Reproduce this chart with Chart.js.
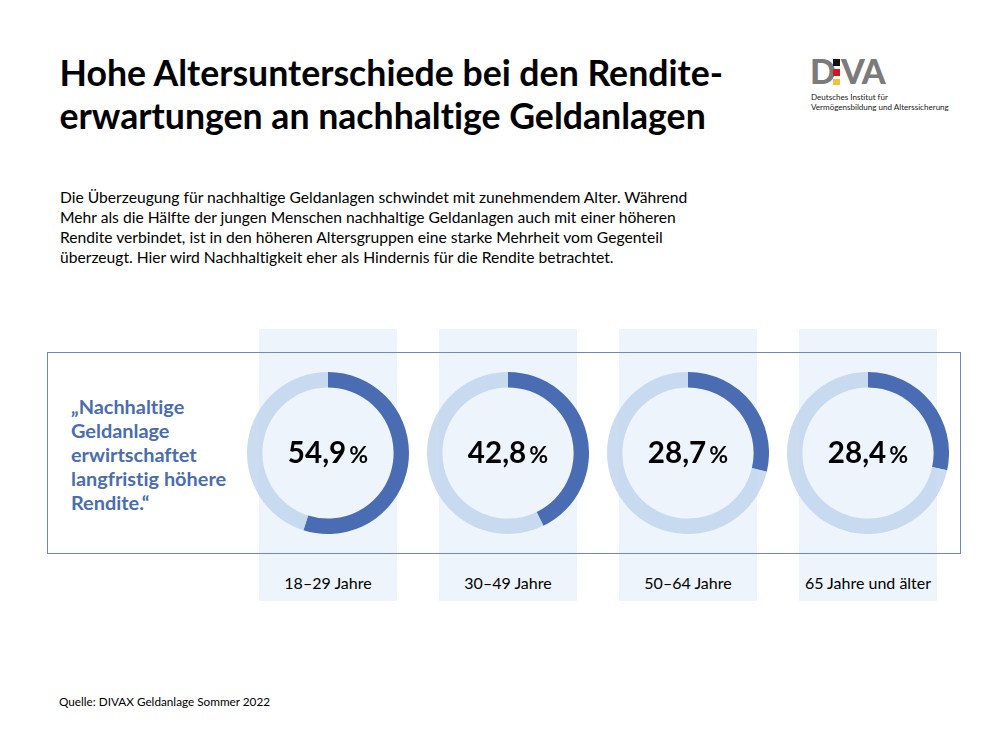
<!DOCTYPE html>
<html lang="de">
<head>
<meta charset="utf-8">
<title>Hohe Altersunterschiede</title>
<script src="https://cdn.jsdelivr.net/npm/chart.js@4"></script>
<style>
  html, body { margin: 0; padding: 0; background: #fff; }
  body { width: 1008px; height: 756px; position: relative; overflow: hidden; font-family: Lato, sans-serif; color: #000; font-variant-ligatures: none; }
  .abs { position: absolute; white-space: nowrap; }
  #title { left: 59.5px; top: 51px; font-size: 35.65px; line-height: 43px; font-weight: 700; }
  #intro { left: 60px; top: 186.5px; font-size: 15.65px; line-height: 20px; }
  #source { left: 59px; top: 694px; font-size: 11.75px; line-height: 16px; }
  #quote { left: 71px; top: 394px; font-size: 19.9px; line-height: 24px; font-weight: 700; color: #4a6cb0; }
  #frame { left: 47px; top: 352px; width: 912px; height: 200px; border: 1px solid #6f87bd; z-index: 3; }
  .panel { position: absolute; top: 329px; width: 138px; height: 272px; background: #eef4fb; }
  .ring { position: absolute; top: 372px; width: 162px; height: 162px; z-index: 2; }
  .inner { position: absolute; top: 387.5px; width: 131px; height: 131px; border-radius: 50%; background: #eef4fb; z-index: 1; }
  .value { position: absolute; top: 433px; left: 0; width: 162px; text-align: center; font-size: 29.6px; line-height: 38px; font-weight: 700; z-index: 4; }
  .value span { font-size: 23px; font-weight: 700; margin-left: 3px; }
  .age { position: absolute; top: 573px; width: 138px; text-align: center; font-size: 16px; line-height: 20px; }
  .logoWord { top: 55px; font-size: 34px; line-height: 32px; font-weight: 900; color: #7b7b7b; letter-spacing: -1px; }
  #logoText { left: 811px; top: 92px; font-size: 8.05px; line-height: 10px; color: #222; }
  .sq { position: absolute; left: 833px; width: 7px; height: 6.5px; }
</style>
</head>
<body>
<div id="title" class="abs">Hohe Altersunterschiede bei den Rendite-<br>erwartungen an nachhaltige Geldanlagen</div>
<div class="abs logoWord" style="left:810px">D</div>
<div class="abs logoWord" style="left:841px">VA</div>
<div class="sq" style="top:59px;background:#111"></div>
<div class="sq" style="top:69px;background:#d8141c"></div>
<div class="sq" style="top:78.5px;background:#f2c230"></div>
<div id="logoText" class="abs">Deutsches Institut für<br>Vermögensbildung und Alterssicherung</div>
<div id="intro" class="abs">Die Überzeugung für nachhaltige Geldanlagen schwindet mit zunehmendem Alter. Während<br>Mehr als die Hälfte der jungen Menschen nachhaltige Geldanlagen auch mit einer höheren<br>Rendite verbindet, ist in den höheren Altersgruppen eine starke Mehrheit vom Gegenteil<br>überzeugt. Hier wird Nachhaltigkeit eher als Hindernis für die Rendite betrachtet.</div>
<div id="frame" class="abs"></div>
<div id="quote" class="abs">„Nachhaltige<br>Geldanlage<br>erwirtschaftet<br>langfristig höhere<br>Rendite.“</div>
<div id="source" class="abs">Quelle: DIVAX Geldanlage Sommer 2022</div>

<script>
const categories = ['18–29 Jahre', '30–49 Jahre', '50–64 Jahre', '65 Jahre und älter'];
const agree = [54.9, 42.8, 28.7, 28.4];
const rest = [45.1, 57.2, 71.3, 71.6];
const valueLabels = ['54,9', '42,8', '28,7', '28,4'];

const colAgree = '#4a6cb3';
const colRest = 'rgba(190,211,236,0.8)';

categories.forEach(function (cat, i) {
  const cx = 328 + i * 180;

  const panel = document.createElement('div');
  panel.className = 'panel';
  panel.style.left = (cx - 69) + 'px';
  document.body.appendChild(panel);

  const inner = document.createElement('div');
  inner.className = 'inner';
  inner.style.left = (cx - 65.5) + 'px';
  document.body.appendChild(inner);

  const box = document.createElement('div');
  box.className = 'ring';
  box.style.left = (cx - 81) + 'px';
  const canvas = document.createElement('canvas');
  box.appendChild(canvas);
  document.body.appendChild(box);

  new Chart(canvas.getContext('2d'), {
    type: 'doughnut',
    data: {
      labels: ['Zustimmung', ''],
      datasets: [{
        data: [agree[i], rest[i]],
        backgroundColor: [colAgree, colRest],
        borderWidth: 0
      }]
    },
    options: {
      responsive: true,
      maintainAspectRatio: false,
      animation: false,
      cutout: '81%',
      plugins: {
        tooltip: { enabled: false },
        legend: { display: false }
      }
    }
  });

  const value = document.createElement('div');
  value.className = 'value';
  value.style.left = (cx - 81) + 'px';
  value.innerHTML = valueLabels[i] + '<span>%</span>';
  document.body.appendChild(value);

  const age = document.createElement('div');
  age.className = 'age';
  age.style.left = (cx - 69) + 'px';
  age.textContent = cat;
  document.body.appendChild(age);
});
</script>
</body>
</html>
